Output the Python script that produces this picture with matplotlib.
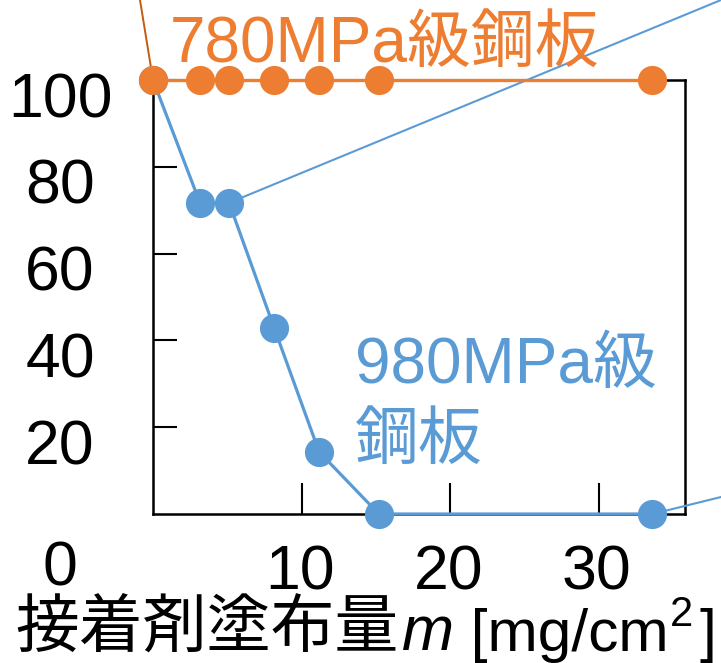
import matplotlib
matplotlib.use("Agg")
import matplotlib.pyplot as plt
from matplotlib.transforms import offset_copy

plt.rcParams['font.family'] = ['Liberation Sans', 'Noto Sans CJK JP']

# data
x_780 = [0, 3.16, 5.12, 8.15, 11.18, 15.2, 33.6]
y_780 = [100, 100, 100, 100, 100, 100, 100]
x_980 = [0, 3.16, 5.12, 8.15, 11.18, 15.2, 33.6]
y_980 = [100, 71.7, 71.7, 42.9, 14.3, 0, 0]
xticks = [10, 20, 30]
xtick_labels = ['10', '20', '30']
yticks = [20, 40, 60, 80, 100]
ytick_labels = ['20', '40', '60', '80', '100']
label_780 = '780MPa級鋼板'
label_980_1 = '980MPa級'
label_980_2 = '鋼板'

ORANGE = '#ED7D31'
ORANGE_DARK = '#C55A11'
BLUE = '#5B9BD5'
FS = 45

fig = plt.figure(figsize=(7.21, 6.63), dpi=100)
W, H = 721, 663
ax = fig.add_axes([153 / W, 1 - 514 / H, (685 - 153) / W, (514 - 80) / H])
ax.set_xlim(0, 35.8)
ax.set_ylim(0, 100)

for s in ax.spines.values():
    s.set_linewidth(1.8)
    s.set_color('black')

ax.set_xticks(xticks)
ax.set_xticklabels([])
ax.set_yticks(yticks)
ax.set_yticklabels([])
ax.tick_params(axis='y', direction='in', length=17, width=1.5)
ax.tick_params(axis='x', direction='in', length=22, width=1.5)

# leader lines
ax.annotate('', xy=(0, 100), xycoords='data', xytext=(140 / W, 1.0),
            textcoords='figure fraction', annotation_clip=False,
            arrowprops=dict(arrowstyle='-', color=ORANGE_DARK, lw=1.4,
                            shrinkA=0, shrinkB=0), zorder=2.9)
ax.annotate('', xy=(x_980[2], y_980[2]), xycoords='data', xytext=(1.0, 1.0),
            textcoords='figure fraction', annotation_clip=False,
            arrowprops=dict(arrowstyle='-', color=BLUE, lw=1.5,
                            shrinkA=0, shrinkB=0), zorder=2.9)
ax.annotate('', xy=(x_980[-1], y_980[-1]), xycoords='data', xytext=(1.0, 1 - 497 / H),
            textcoords='figure fraction', annotation_clip=False,
            arrowprops=dict(arrowstyle='-', color=BLUE, lw=1.5,
                            shrinkA=0, shrinkB=0), zorder=2.9)

ax.plot(x_980, y_980, color=BLUE, lw=2.3, marker='o', ms=21,
        markeredgewidth=0, clip_on=False, zorder=3)
ax.plot(x_780, y_780, color=ORANGE, lw=2.4, marker='o', ms=21,
        markeredgewidth=0, clip_on=False, zorder=4)

# tick labels
ytr = offset_copy(ax.get_yaxis_transform(), fig=fig, x=0, y=-37, units='dots')
for v, lab in zip(yticks, ytick_labels):
    ax.text(-0.1748, v, lab, transform=ytr, ha='center', va='baseline',
            fontsize=FS, clip_on=False)
ztr = offset_copy(ax.get_yaxis_transform(), fig=fig, x=0, y=-71, units='dots')
ax.text(-0.1748, 0, '0', transform=ztr, ha='center', va='baseline',
        fontsize=FS, clip_on=False)
xtr = offset_copy(ax.get_xaxis_transform(), fig=fig, x=-2, y=-75, units='dots')
for v, lab in zip(xticks, xtick_labels):
    ax.text(v, 0, lab, transform=xtr, ha='center', va='baseline',
            fontsize=FS, clip_on=False)

# series labels
ax.text((170 - 153) / 532, (514 - 62) / 434, label_780, transform=ax.transAxes,
        ha='left', va='baseline', fontsize=46, color=ORANGE, clip_on=False)
ax.text((355 - 153) / 532, (514 - 383) / 434, label_980_1, transform=ax.transAxes,
        ha='left', va='baseline', fontsize=46, color=BLUE)
ax.text((355 - 153) / 532, (514 - 459) / 434, label_980_2, transform=ax.transAxes,
        ha='left', va='baseline', fontsize=46, color=BLUE)

# x-axis label (mixed fonts)
t1 = fig.text(15 / W, 1 - 648 / H, '接着剤塗布量', fontsize=46,
              family=['Noto Sans CJK JP'], ha='left', va='baseline')
t2 = ax.annotate('m', xy=(1, 0), xycoords=t1, xytext=(4, 0), textcoords='offset pixels',
                 fontsize=FS, fontstyle='italic', ha='left', va='bottom',
                 annotation_clip=False)
t3 = ax.annotate(' [mg/cm', xy=(1, 0), xycoords=t2, fontsize=43.5,
                 ha='left', va='bottom', annotation_clip=False)
t4 = ax.annotate('2', xy=(1, 0), xycoords=t3, xytext=(1, 37), textcoords='offset pixels',
                 fontsize=30, ha='left', va='baseline', annotation_clip=False)
t5 = ax.annotate(']', xy=(1, 0), xycoords=t3, xytext=(31, 0), textcoords='offset pixels',
                 fontsize=43.5, ha='left', va='bottom', annotation_clip=False)

fig.savefig('out.png', dpi=100)
